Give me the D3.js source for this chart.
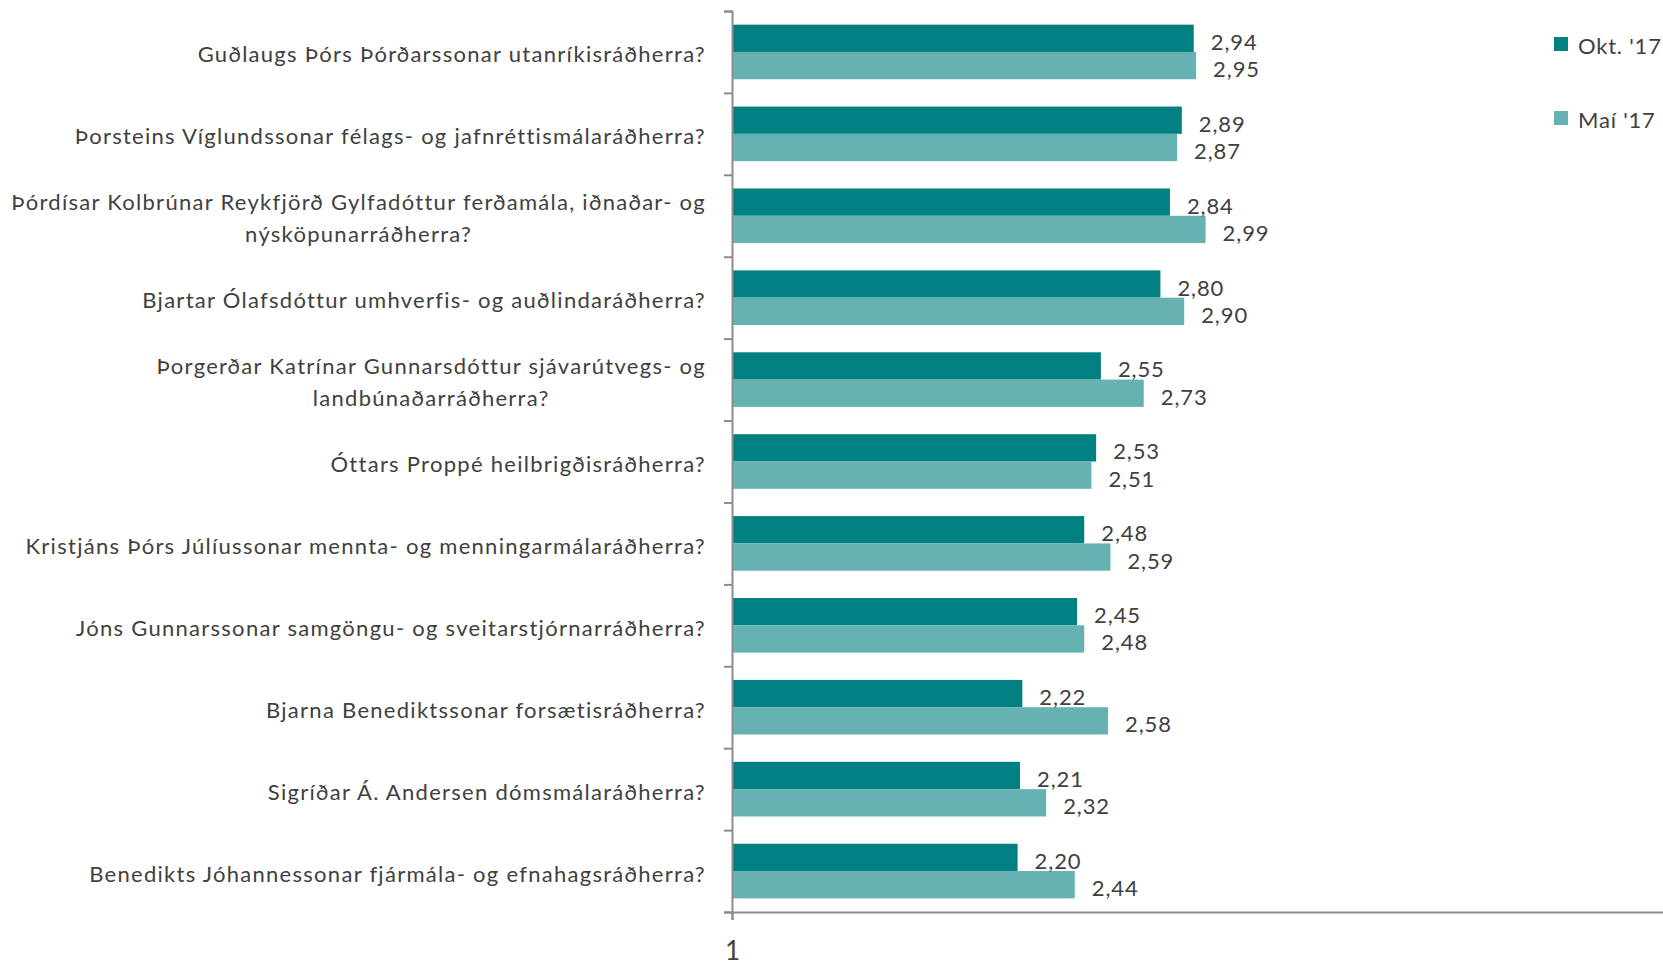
<!DOCTYPE html>
<html>
<head>
<meta charset="utf-8">
<script src="https://cdn.jsdelivr.net/npm/d3@7"></script>
<style>
    html, body { margin: 0; padding: 0; background: #fff; overflow: hidden; }
    text { font-family: Lato, "Open Sans", sans-serif; fill: #404040; }
</style>
</head>
<body>
<div id="chart"></div>
<script>
// categories (line breaks where the original label wraps)
const CATEGORIES = [
    "Guðlaugs Þórs Þórðarssonar utanríkisráðherra?",
    "Þorsteins Víglundssonar félags- og jafnréttismálaráðherra?",
    "Þórdísar Kolbrúnar Reykfjörð Gylfadóttur ferðamála, iðnaðar- og\nnýsköpunarráðherra?",
    "Bjartar Ólafsdóttur umhverfis- og auðlindaráðherra?",
    "Þorgerðar Katrínar Gunnarsdóttur sjávarútvegs- og\nlandbúnaðarráðherra?",
    "Óttars Proppé heilbrigðisráðherra?",
    "Kristjáns Þórs Júlíussonar mennta- og menningarmálaráðherra?",
    "Jóns Gunnarssonar samgöngu- og sveitarstjórnarráðherra?",
    "Bjarna Benediktssonar forsætisráðherra?",
    "Sigríðar Á. Andersen dómsmálaráðherra?",
    "Benedikts Jóhannessonar fjármála- og efnahagsráðherra?"
];

const SERIES = ["Okt. '17", "Maí '17"];
const OKT_17 = [2.94, 2.89, 2.84, 2.80, 2.55, 2.53, 2.48, 2.45, 2.22, 2.21, 2.20];
const MAI_17 = [2.95, 2.87, 2.99, 2.90, 2.73, 2.51, 2.59, 2.48, 2.58, 2.32, 2.44];
const X_TICKS = [1];

const COLORS = ["#008080", "#66b2b2"];

const fmt = v => d3.format(".2f")(v).replace(".", ",");

const drawChart = () => {
    const width = 1663;
    const height = 965;
    const marginLeft = 732;
    const marginTop = 11;
    const plotBottom = 912;
    const labelRight = 706;

    const svg = d3.select("#chart").append("svg")
        .attr("width", width)
        .attr("height", height);

    const x = d3.scaleLinear()
        .domain([1, 5])
        .range([marginLeft, marginLeft + 4 * 238]);

    const y = d3.scaleBand()
        .domain(CATEGORIES)
        .range([marginTop, plotBottom])
        .padding(0);

    const ySub = d3.scaleBand()
        .domain(SERIES)
        .range([0, y.bandwidth()])
        .paddingInner(0)
        .paddingOuter(0.5);

    const rows = CATEGORIES.map((c, i) => ({ cat: c, values: [OKT_17[i], MAI_17[i]] }));

    const group = svg.selectAll(".row")
        .data(rows)
        .join("g")
        .attr("class", "row")
        .attr("transform", d => `translate(0,${y(d.cat)})`);

    group.selectAll("rect")
        .data(d => d.values.map((v, j) => ({ key: SERIES[j], value: v, j })))
        .join("rect")
        .attr("x", x(1))
        .attr("y", d => ySub(d.key))
        .attr("width", d => x(d.value) - x(1))
        .attr("height", ySub.bandwidth())
        .attr("fill", d => COLORS[d.j]);

    group.selectAll(".value")
        .data(d => d.values.map((v, j) => ({ key: SERIES[j], value: v, j })))
        .join("text")
        .attr("class", "value")
        .attr("x", d => x(d.value) + 17)
        .attr("y", d => ySub(d.key) + ySub.bandwidth() / 2 + 3)
        .attr("dominant-baseline", "central")
        .attr("font-size", 22)
        .attr("letter-spacing", 0.9)
        .text(d => fmt(d.value));

    // category labels: block right-aligned, wrapped lines centred within the block
    const labels = svg.selectAll(".cat-label")
        .data(CATEGORIES)
        .join("text")
        .attr("class", "cat-label")
        .attr("font-size", 22)
        .attr("letter-spacing", 1.28)
        .attr("transform", d => `translate(${labelRight},${y(d) + y.bandwidth() / 2 + 2})`);

    labels.each(function(d) {
        const lines = d.split("\n");
        const lh = 32;
        const t = d3.select(this);
        const spans = t.selectAll("tspan")
            .data(lines)
            .join("tspan")
            .attr("x", 0)
            .attr("y", (l, i) => (i - (lines.length - 1) / 2) * lh)
            .attr("dominant-baseline", "central")
            .text(l => l);
        if (lines.length === 1) {
            t.attr("text-anchor", "end");
        } else {
            const maxW = d3.max(spans.nodes(), n => n.getComputedTextLength());
            t.attr("text-anchor", "middle");
            spans.attr("x", -maxW / 2);
        }
    });

    // y axis with ticks between categories
    const yEdges = d3.scaleLinear()
        .domain([0, CATEGORIES.length])
        .range([marginTop, plotBottom]);

    svg.append("g")
        .attr("transform", `translate(${marginLeft},0)`)
        .call(d3.axisLeft(yEdges).tickValues(d3.range(CATEGORIES.length + 1)).tickSize(8).tickFormat(""))
        .call(g => g.select(".domain").attr("stroke", "#8c8c8c").attr("stroke-width", 2))
        .call(g => g.selectAll(".tick line").attr("stroke", "#8c8c8c").attr("stroke-width", 2));

    // x axis
    svg.append("g")
        .attr("transform", `translate(0,${plotBottom})`)
        .call(d3.axisBottom(x).tickValues(X_TICKS).tickSize(8).tickPadding(22).tickFormat(d3.format("d")))
        .call(g => g.select(".domain").attr("stroke", "#8c8c8c").attr("stroke-width", 2))
        .call(g => g.selectAll(".tick line").attr("stroke", "#8c8c8c").attr("stroke-width", 2))
        .call(g => g.selectAll(".tick text").attr("font-size", 26).attr("fill", "#404040")
            .style("font-family", "Lato, 'Open Sans', sans-serif"));

    // legend
    const legend = svg.selectAll(".legend")
        .data(SERIES)
        .join("g")
        .attr("class", "legend")
        .attr("transform", (d, i) => `translate(1554,${44 + i * 74})`);

    legend.append("rect")
        .attr("x", 0)
        .attr("y", -7)
        .attr("width", 14)
        .attr("height", 14)
        .attr("fill", (d, i) => COLORS[i]);

    legend.append("text")
        .attr("x", 24)
        .attr("y", 1)
        .attr("dominant-baseline", "central")
        .attr("font-size", 22)
        .attr("letter-spacing", 0.8)
        .text(d => d);
};

window.addEventListener("DOMContentLoaded", () => {
    drawChart();
}, { once: true });
</script>
</body>
</html>
